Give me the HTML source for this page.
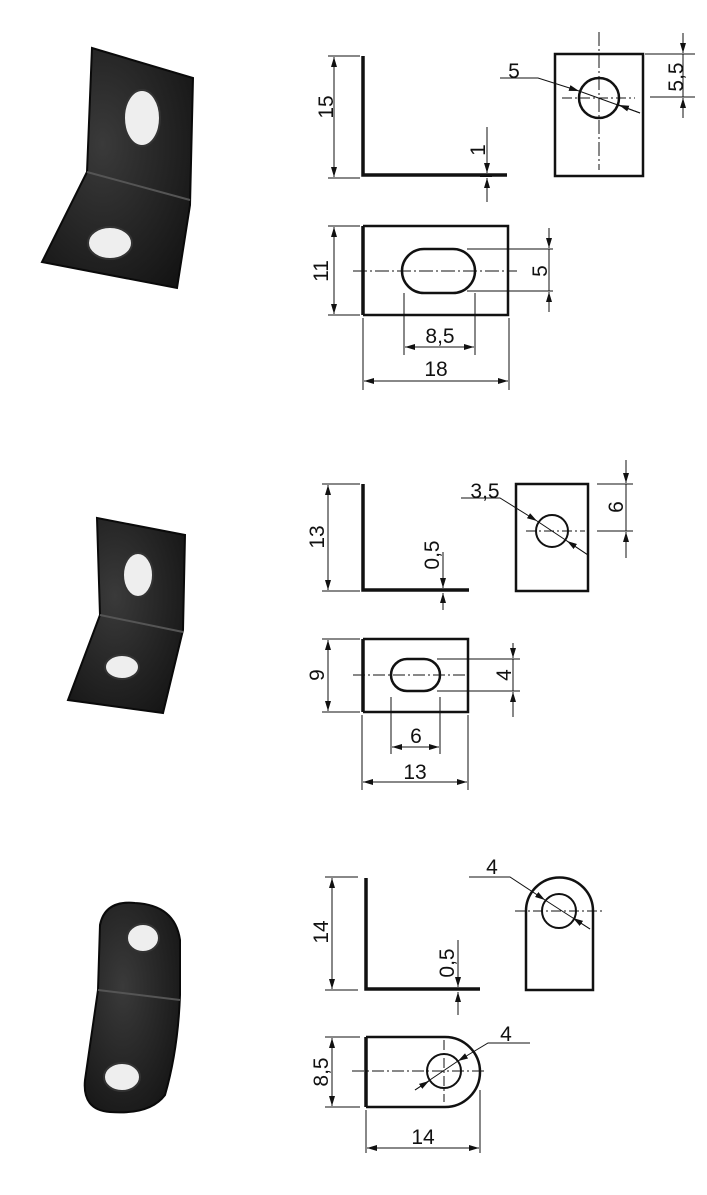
<!DOCTYPE html>
<html><head><meta charset="utf-8"><style>
html,body{margin:0;padding:0;background:#fff}
svg{display:block}
text{font-family:"Liberation Sans",Arial,sans-serif;font-size:21px;fill:#111}
</style></head><body>
<svg width="707" height="1195" viewBox="0 0 707 1195" xmlns="http://www.w3.org/2000/svg">
<defs>
<marker id="a" viewBox="0 0 10 6" refX="10" refY="3" markerWidth="10" markerHeight="6" markerUnits="userSpaceOnUse" orient="auto-start-reverse"><path d="M0,0 L10,3 L0,6 Z" fill="#111"/></marker>
<radialGradient id="g" cx="0.4" cy="0.4" r="0.8"><stop offset="0" stop-color="#3a3a3a"/><stop offset="1" stop-color="#111"/></radialGradient>
</defs>

<g fill="url(#g)" stroke="#0a0a0a" stroke-width="2">
<path d="M92,48 L193,78 L190,205 L177,288 L42,262 L87,172 Z"/>
<path d="M97,518 L185,535 L183,630 L163,713 L68,700 L100,615 Z"/>
<path d="M100,925 Q105,900 135,903 Q175,905 180,940 L180,995 Q178,1050 165,1095 Q150,1115 110,1112 Q82,1110 85,1080 L98,990 Z"/>
</g>
<g stroke="#555" stroke-width="2" fill="none">
<path d="M87,172 L190,200"/><path d="M100,615 L183,632"/><path d="M98,990 L180,1000"/>
</g>
<g fill="#eee" stroke="#333" stroke-width="2">
<ellipse cx="142" cy="118" rx="18" ry="28"/><ellipse cx="110" cy="243" rx="22" ry="16"/>
<ellipse cx="138" cy="575" rx="15" ry="22"/><ellipse cx="122" cy="667" rx="17" ry="12"/>
<ellipse cx="143" cy="938" rx="16" ry="14"/><ellipse cx="122" cy="1077" rx="18" ry="14"/>
</g>

<g fill="none" stroke="#111">
<path d="M363,56 V175 H507" stroke-width="3.5"/>
<g stroke-width="1">
<path d="M328,56 H360 M328,178 H360"/>
<path d="M334,57 V177" marker-start="url(#a)" marker-end="url(#a)"/>
<path d="M487,127 V173" marker-end="url(#a)"/><path d="M487,202 V178" marker-end="url(#a)"/>
<path d="M480,176.5 H492"/>
</g>
<rect x="555" y="54" width="88" height="122" stroke-width="2.5"/>
<circle cx="599" cy="98" r="20" stroke-width="2.5"/>
<g stroke-width="1">
<path d="M599,32 V170" stroke-dasharray="14,3,2,3"/>
<path d="M562,98 H635" stroke-dasharray="10,3,2,3"/>
<path d="M645,54 H695 M650,97 H695"/>
<path d="M683,33 V53" marker-end="url(#a)"/><path d="M683,118 V98" marker-end="url(#a)"/><path d="M683,54 V97"/>
<path d="M500,78 H538 L579,91" marker-end="url(#a)"/>
<path d="M579,91 L640,113"/><path d="M640,113 L619,105" marker-end="url(#a)"/>
</g>
<path d="M363,226 H508 V315 H363" stroke-width="2.5"/><path d="M363,226 V315" stroke-width="3.5"/>
<rect x="402" y="249" width="73" height="44" rx="22" stroke-width="2.5"/>
<g stroke-width="1">
<path d="M353,271 H517" stroke-dasharray="14,3,2,3"/>
<path d="M328,226 H360 M328,315 H360"/>
<path d="M334,227 V314" marker-start="url(#a)" marker-end="url(#a)"/>
<path d="M467,249 H553 M467,291 H553"/>
<path d="M549,228 V248" marker-end="url(#a)"/><path d="M549,312 V292" marker-end="url(#a)"/><path d="M549,249 V291"/>
<path d="M404,293 V355 M475,293 V355"/>
<path d="M405,347 H474" marker-start="url(#a)" marker-end="url(#a)"/>
<path d="M363,318 V390 M509,318 V390"/>
<path d="M364,381 H508" marker-start="url(#a)" marker-end="url(#a)"/>
</g>

<path d="M363,484 V590 H469" stroke-width="3.5"/>
<g stroke-width="1">
<path d="M322,484 H360 M322,591 H360"/>
<path d="M328,485 V590" marker-start="url(#a)" marker-end="url(#a)"/>
<path d="M443,552 V588" marker-end="url(#a)"/><path d="M443,610 V593" marker-end="url(#a)"/>
</g>
<rect x="516" y="484" width="72" height="107" stroke-width="2.5"/>
<circle cx="552" cy="531" r="16" stroke-width="2"/>
<g stroke-width="1">
<path d="M526,531 H585" stroke-dasharray="10,3,2,3"/>
<path d="M597,484 H633 M597,531 H633"/>
<path d="M626,460 V483" marker-end="url(#a)"/><path d="M626,558 V532" marker-end="url(#a)"/><path d="M626,484 V531"/>
<path d="M461,498 H500 L537,521" marker-end="url(#a)"/>
<path d="M537,521 L588,555"/><path d="M588,555 L567,541" marker-end="url(#a)"/>
</g>
<path d="M363,639 H468 V712 H363" stroke-width="2.5"/><path d="M363,639 V712" stroke-width="3.5"/>
<rect x="391" y="659" width="49" height="32" rx="16" stroke-width="2.5"/>
<g stroke-width="1">
<path d="M353,675 H468" stroke-dasharray="12,3,2,3"/>
<path d="M322,639 H360 M322,712 H360"/>
<path d="M328,640 V711" marker-start="url(#a)" marker-end="url(#a)"/>
<path d="M437,659 H520 M437,691 H520"/>
<path d="M513,643 V658" marker-end="url(#a)"/><path d="M513,717 V692" marker-end="url(#a)"/><path d="M513,659 V691"/>
<path d="M391,697 V754 M440,697 V754"/>
<path d="M392,747 H439" marker-start="url(#a)" marker-end="url(#a)"/>
<path d="M362,715 V790 M468,715 V790"/>
<path d="M363,782 H467" marker-start="url(#a)" marker-end="url(#a)"/>
</g>

<path d="M366,878 V989 H480" stroke-width="3.5"/>
<g stroke-width="1">
<path d="M325,877 H358 M325,990 H358"/>
<path d="M332,878 V989" marker-start="url(#a)" marker-end="url(#a)"/>
<path d="M458,940 V987" marker-end="url(#a)"/><path d="M458,1015 V992" marker-end="url(#a)"/>
</g>
<path d="M526,990 V911 A33.5,33.5 0 0 1 593,911 V990 Z" stroke-width="2.5"/>
<circle cx="559" cy="911" r="17" stroke-width="2"/>
<g stroke-width="1">
<path d="M515,911 H605" stroke-dasharray="10,3,2,3"/>
<path d="M469,877 H510 L545,900" marker-end="url(#a)"/>
<path d="M545,900 L590,929"/><path d="M590,929 L573,918" marker-end="url(#a)"/>
</g>
<path d="M366,1037 H445 A35,35 0 0 1 445,1107 H366" stroke-width="2.5"/><path d="M366,1037 V1107" stroke-width="3.5"/>
<circle cx="444" cy="1071" r="17" stroke-width="2"/>
<g stroke-width="1">
<path d="M352,1071 H485" stroke-dasharray="12,3,2,3"/>
<path d="M444,1040 V1102" stroke-dasharray="10,3,2,3"/>
<path d="M325,1037 H360 M325,1107 H360"/>
<path d="M332,1038 V1106" marker-start="url(#a)" marker-end="url(#a)"/>
<path d="M530,1043 H488 L458,1061" marker-end="url(#a)"/>
<path d="M458,1061 L415,1090"/><path d="M415,1090 L429,1081" marker-end="url(#a)"/>
<path d="M366,1110 V1153 M480,1090 V1153"/>
<path d="M367,1148 H479" marker-start="url(#a)" marker-end="url(#a)"/>
</g>
</g>

<g text-anchor="middle">
<text transform="translate(326,107) rotate(-90)" dy="7">15</text>
<text transform="translate(478,150) rotate(-90)" dy="7">1</text>
<text x="514" y="78">5</text>
<text transform="translate(676,77) rotate(-90)" dy="7">5,5</text>
<text transform="translate(321,271) rotate(-90)" dy="7">11</text>
<text transform="translate(540,271) rotate(-90)" dy="7">5</text>
<text x="440" y="343">8,5</text>
<text x="436" y="376">18</text>

<text transform="translate(317,537) rotate(-90)" dy="7">13</text>
<text transform="translate(432,555) rotate(-90)" dy="7">0,5</text>
<text x="485" y="498">3,5</text>
<text transform="translate(616,507) rotate(-90)" dy="7">6</text>
<text transform="translate(317,675) rotate(-90)" dy="7">9</text>
<text transform="translate(504,675) rotate(-90)" dy="7">4</text>
<text x="416" y="743">6</text>
<text x="415" y="779">13</text>

<text transform="translate(321,932) rotate(-90)" dy="7">14</text>
<text transform="translate(447,963) rotate(-90)" dy="7">0,5</text>
<text x="492" y="874">4</text>
<text transform="translate(321,1072) rotate(-90)" dy="7">8,5</text>
<text x="506" y="1041">4</text>
<text x="423" y="1144">14</text>
</g>
</svg>
</body></html>
